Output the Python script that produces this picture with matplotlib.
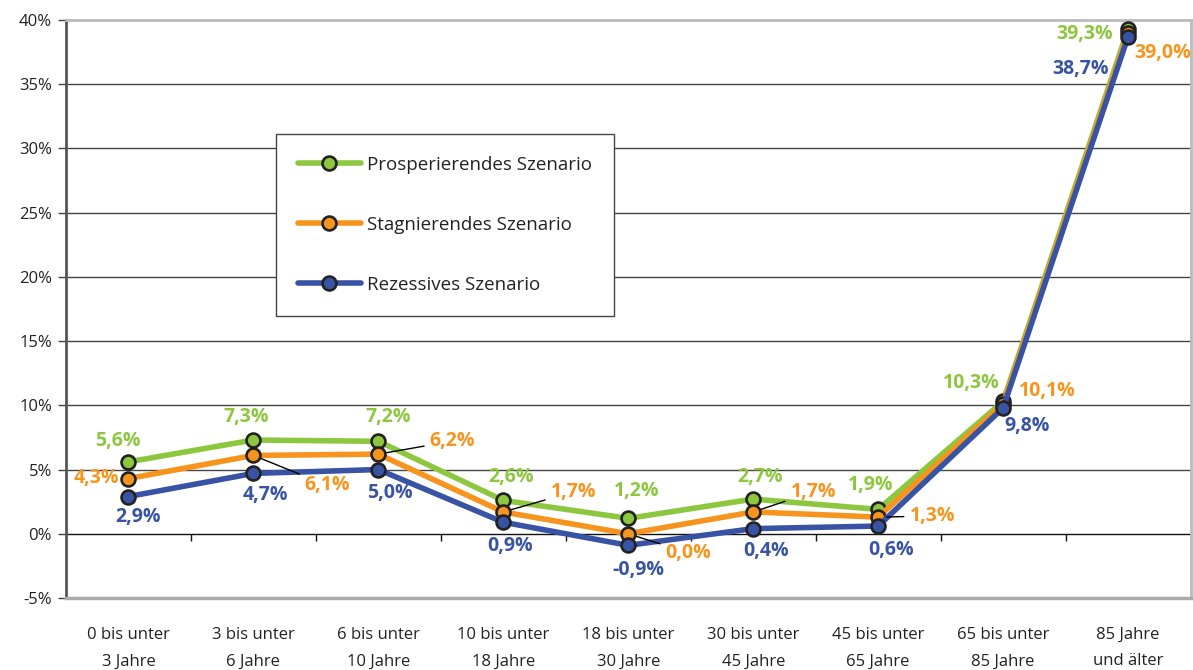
import numpy as np
import matplotlib.pyplot as plt

# Data
categories = ["0 bis unter\n3 Jahre", "3 bis unter\n6 Jahre", "6 bis unter\n10 Jahre",
              "10 bis unter\n18 Jahre", "18 bis unter\n30 Jahre", "30 bis unter\n45 Jahre",
              "45 bis unter\n65 Jahre", "65 bis unter\n85 Jahre", "85 Jahre\nund älter"]
prosper = [5.6, 7.3, 7.2, 2.6, 1.2, 2.7, 1.9, 10.3, 39.3]
stagn = [4.3, 6.1, 6.2, 1.7, 0.0, 1.7, 1.3, 10.1, 39.0]
rezess = [2.9, 4.7, 5.0, 0.9, -0.9, 0.4, 0.6, 9.8, 38.7]
names = ["Prosperierendes Szenario", "Stagnierendes Szenario", "Rezessives Szenario"]
yticks = [-5, 0, 5, 10, 15, 20, 25, 30, 35, 40]

# label offsets in pixels (dx, dy) and whether a leader line is drawn
off_green = [(-11, 21), (-7, 23), (10, 24), (8, 23), (8, 27), (7, 22), (-8, 24), (-32, 18), (-43, -5)]
off_orange = [(-32, 1), (74, -30), (74, 13), (70, 20), (60, -19), (60, 20), (54, 1), (44, 13), (35, -20)]
lead_orange = [False, True, True, True, True, True, True, False, False]
off_blue = [(10, -20), (12, -22), (12, -23), (7, -24), (10, -25), (13, -22), (13, -24), (24, -18), (-47, -32)]

green = "#8dc63f"
orange = "#f7941d"
blue = "#3953a4"

plt.rcParams['font.family'] = ['Open Sans', 'DejaVu Sans']

fig = plt.figure(figsize=(11.93, 6.70), dpi=100)
ax = fig.add_axes([66/1193, 1-598/670, (1190.5-66)/1193, (598-20)/670])

x = np.arange(len(categories))
ax.set_xlim(-0.5, len(categories)-0.5)
ax.set_ylim(-5, 40)

# grid lines
for yv in yticks[1:-1]:
    ax.axhline(yv, color="#444444" if yv != 0 else "#111111", lw=1, zorder=1)
# category ticks on the zero axis
ax.vlines(np.arange(0.5, len(categories)-1), 0, -0.6, color="#111111", lw=1, zorder=1)

series = [(prosper, green, off_green, None), (stagn, orange, off_orange, lead_orange), (rezess, blue, off_blue, None)]
for (vals, col, offs, leads), nm in zip(series, names):
    ax.plot(x, vals, color=col, lw=4, marker='o', ms=10, mfc=col, mec="#222222",
            mew=1.9, label=nm, zorder=3, solid_capstyle='round')
    for i, v in enumerate(vals):
        txt = ("%.1f%%" % v).replace('.', ',')
        dx, dy = offs[i]
        kw = {}
        if leads is not None and leads[i]:
            kw['arrowprops'] = dict(arrowstyle='-', color='black', lw=1, shrinkA=2, shrinkB=6)
        ax.annotate(txt, (x[i], v), xytext=(dx, dy), textcoords='offset pixels',
                    ha='center', va='center', color=col, fontsize=14, fontweight='bold',
                    zorder=4, **kw)

ax.set_xticks(x)
ax.set_xticklabels(categories, fontsize=12, color="#222222", linespacing=1.85)
ax.tick_params(axis='x', length=0, pad=21)
ax.set_yticks(yticks)
ax.set_yticklabels(["%d%%" % t for t in yticks], fontsize=12, color="#222222")
ax.tick_params(axis='y', length=6, width=1, color="#444444", pad=4)

ax.spines['left'].set_color("#555555")
ax.spines['left'].set_linewidth(2)
ax.spines['bottom'].set_color("#aaaaaa")
ax.spines['bottom'].set_linewidth(2.5)
ax.spines['top'].set_color("#bbbbbb")
ax.spines['top'].set_linewidth(2)
ax.spines['right'].set_color("#bbbbbb")
ax.spines['right'].set_linewidth(2)

leg = ax.legend(loc='upper left', bbox_to_anchor=(276/1193, 1-134/670), bbox_transform=fig.transFigure,
                fontsize=13.5, frameon=True, fancybox=False, framealpha=1, edgecolor="#444444",
                labelspacing=2.25, handlelength=3.4, handletextpad=0.3, borderpad=1.15,
                borderaxespad=0)
leg.get_frame().set_linewidth(1)
for t in leg.get_texts():
    t.set_color("#222222")

fig.savefig("out.png", dpi=100)
